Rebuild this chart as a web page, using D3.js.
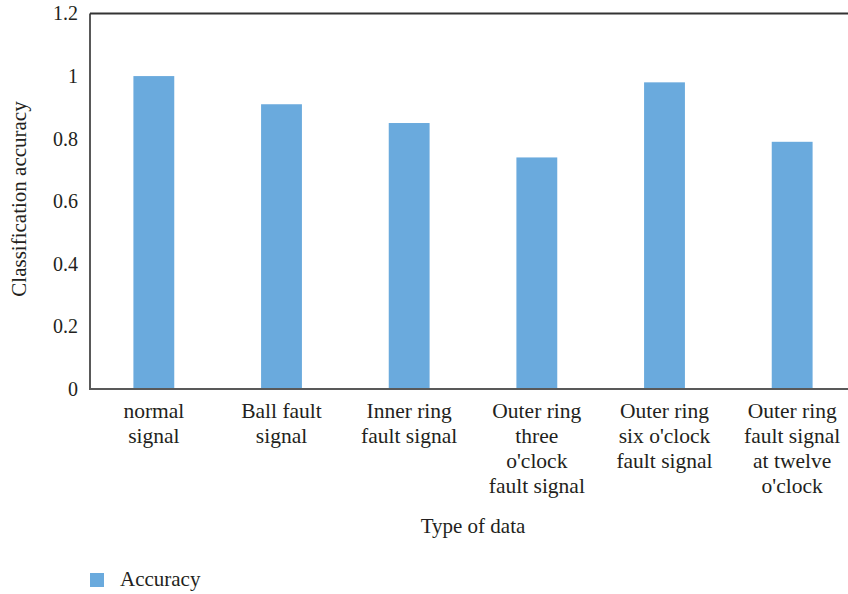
<!DOCTYPE html>
<html>
<head>
<meta charset="utf-8">
<script src="https://cdn.jsdelivr.net/npm/d3@7"></script>
<style>
  html, body { margin: 0; padding: 0; background: #fff; }
  svg text { font-family: "Liberation Serif", "DejaVu Serif", serif; fill: #231f20; }
</style>
</head>
<body>
<svg id="chart" width="848" height="594"></svg>
<script>
// Classification accuracy for each type of bearing signal
const categories = [
  ["normal", "signal"],
  ["Ball fault", "signal"],
  ["Inner ring", "fault signal"],
  ["Outer ring", "three", "o'clock", "fault signal"],
  ["Outer ring", "six o'clock", "fault signal"],
  ["Outer ring", "fault signal", "at twelve", "o'clock"]
];
const accuracy = [1.0, 0.91, 0.85, 0.74, 0.98, 0.79];
const yTicks = [0, 0.2, 0.4, 0.6, 0.8, 1, 1.2];
const seriesName = "Accuracy";

const svg = d3.select("#chart");
const plotLeft = 90, plotRight = 856, plotTop = 13.5, plotBottom = 389;
const barColor = "#6aaadd";

const keys = categories.map((c, i) => i);
const x = d3.scaleBand().domain(keys).range([plotLeft, plotRight]).paddingInner(0.68).paddingOuter(0.34);
const y = d3.scaleLinear().domain([0, 1.2]).range([plotBottom, plotTop]);

// bars
svg.append("g").selectAll("rect").data(accuracy).join("rect")
  .attr("x", (d, i) => x(i))
  .attr("y", d => y(d))
  .attr("width", x.bandwidth())
  .attr("height", d => y(0) - y(d))
  .attr("fill", barColor);

// frame: left, top and baseline
const frame = svg.append("g").attr("fill", "none").attr("stroke", "#595959").attr("stroke-width", 2);
frame.append("line").attr("x1", plotLeft).attr("x2", plotLeft).attr("y1", plotTop).attr("y2", plotBottom + 1);
frame.append("line").attr("x1", plotLeft).attr("x2", 848).attr("y1", plotTop).attr("y2", plotTop).attr("stroke", "#333");
frame.append("line").attr("x1", plotLeft - 1).attr("x2", 848).attr("y1", plotBottom).attr("y2", plotBottom);

// y axis tick labels
const yAxis = d3.axisLeft(y).tickValues(yTicks).tickSize(0).tickPadding(12)
  .tickFormat(d => d3.format("")(d));
const gy = svg.append("g").attr("transform", `translate(${plotLeft},0)`).call(yAxis);
gy.select(".domain").remove();
gy.attr("font-family", null);
gy.selectAll("text").style("font-size", "20px").attr("fill", "#231f20");

// x axis category labels (multi-line)
const gx = svg.append("g");
categories.forEach((lines, i) => {
  const cx = x(i) + x.bandwidth() / 2;
  const t = gx.append("text")
    .attr("x", cx)
    .attr("y", 418)
    .attr("text-anchor", "middle")
    .style("font-size", "21.5px");
  lines.forEach((ln, j) => {
    t.append("tspan").attr("x", cx).attr("dy", j === 0 ? 0 : 25).text(ln);
  });
});

// axis titles
svg.append("text").attr("x", 473).attr("y", 533).attr("text-anchor", "middle")
  .style("font-size", "21px").text("Type of data");
svg.append("text").attr("transform", "translate(26,199) rotate(-90)").attr("text-anchor", "middle")
  .style("font-size", "21px").text("Classification accuracy");

// legend
const lg = svg.append("g").attr("transform", "translate(90,573)");
lg.append("rect").attr("width", 14).attr("height", 14).attr("fill", barColor);
lg.append("text").attr("x", 30).attr("y", 13).style("font-size", "21px").text(seriesName);
</script>
</body>
</html>
